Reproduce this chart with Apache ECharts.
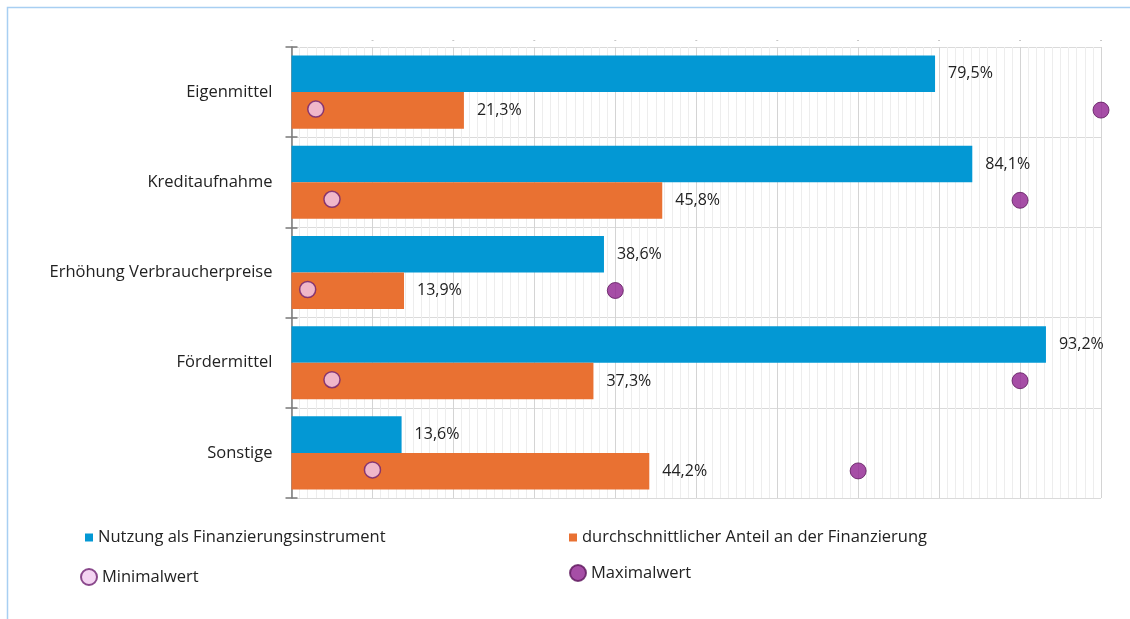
<!DOCTYPE html>
<html>
<head>
<meta charset="utf-8">
<style>
  html, body { margin: 0; padding: 0; background: #fff; }
  #chart { width: 1130px; height: 619px; }
</style>
<script src="https://cdn.jsdelivr.net/npm/echarts@6/dist/echarts.min.js"></script>
</head>
<body>
<div id="chart"></div>
<script>
// Finanzierungsinstrumente: Nutzung und Anteil an der Finanzierung (in %)
const categories = ['Eigenmittel', 'Kreditaufnahme', 'Erhöhung Verbraucherpreise', 'Fördermittel', 'Sonstige'];
const nutzung = [79.5, 84.1, 38.6, 93.2, 13.6];
const anteil = [21.3, 45.8, 13.9, 37.3, 44.2];
const minimalwert = [3, 5, 2, 5, 10];
const maximalwert = [100, 90, 40, 90, 70];
const xTicks = [0, 10, 20, 30, 40, 50, 60, 70, 80, 90, 100];

const names = {
  nutzung: 'Nutzung als Finanzierungsinstrument',
  anteil: 'durchschnittlicher Anteil an der Finanzierung',
  min: 'Minimalwert',
  max: 'Maximalwert'
};

const FONT = '"Open Sans", "Noto Sans", sans-serif';
const TEXT = '#222';
const fmt = v => v.toFixed(1).replace('.', ',') + '%';

const chart = echarts.init(document.getElementById('chart'), null, { renderer: 'canvas' });

const legendBase = {
  orient: 'horizontal',
  padding: 0,
  itemGap: 0,
  selectedMode: false,
  textStyle: { fontFamily: FONT, fontSize: 16.5, color: TEXT }
};

chart.setOption({
  animation: false,
  backgroundColor: '#fff',
  textStyle: { fontFamily: FONT },
  graphic: [{
    type: 'rect',
    shape: { x: 7.5, y: 7.5, width: 1200, height: 700 },
    style: { fill: 'none', stroke: '#a8cff2', lineWidth: 1.5 },
    silent: true
  }],
  grid: { left: 291.5, right: 29, top: 47, bottom: 121, containLabel: false },
  xAxis: {
    type: 'value',
    position: 'top',
    min: xTicks[0],
    max: xTicks[xTicks.length - 1],
    interval: xTicks[1] - xTicks[0],
    axisLine: { show: false },
    axisTick: { show: false },
    axisLabel: {
      show: true, margin: 3, fontSize: 8, color: '#9a9a9a',
      formatter: () => '-'
    },
    splitLine: { show: true, lineStyle: { color: '#d4d4d4', width: 1 } },
    minorTick: { show: false, splitNumber: 10 },
    minorSplitLine: { show: true, lineStyle: { color: '#ededed', width: 1 } }
  },
  yAxis: [{
    type: 'category',
    position: 'left',
    inverse: true,
    data: categories,
    axisLine: { show: true, lineStyle: { color: '#7a7a7a', width: 1.5 } },
    axisTick: { show: true, length: 6, lineStyle: { color: '#7a7a7a', width: 1.5 } },
    axisLabel: { margin: 19, fontSize: 16.5, color: TEXT, fontFamily: FONT },
    splitLine: { show: true, lineStyle: { color: '#dadada', width: 1 } }
  }, {
    type: 'category',
    position: 'left',
    inverse: true,
    data: categories,
    axisLine: { show: false },
    axisTick: { show: true, inside: true, length: 6, lineStyle: { color: '#7a7a7a', width: 1.5 } },
    axisLabel: { show: false },
    splitLine: { show: false }
  }],
  legend: [
    Object.assign({}, legendBase, { data: [{ name: names.nutzung, icon: 'rect' }], left: 85, top: 529, itemWidth: 8, itemHeight: 8 }),
    Object.assign({}, legendBase, { data: [{ name: names.anteil, icon: 'rect' }], left: 569, top: 529, itemWidth: 8, itemHeight: 8 }),
    Object.assign({}, legendBase, { data: [{ name: names.min, icon: 'circle' }], left: 80, top: 568, itemWidth: 16, itemHeight: 16 }),
    Object.assign({}, legendBase, { data: [{ name: names.max, icon: 'circle' }], left: 569, top: 564, itemWidth: 16, itemHeight: 16 })
  ],
  series: [{
    name: names.nutzung,
    type: 'bar',
    yAxisIndex: 0,
    data: nutzung,
    barGap: '0%',
    barCategoryGap: '19%',
    itemStyle: { color: '#0398d4' },
    label: {
      show: true, position: 'right', distance: 13,
      fontSize: 16, color: TEXT, fontFamily: FONT,
      formatter: p => fmt(p.value)
    },
    z: 2
  }, {
    name: names.anteil,
    type: 'bar',
    yAxisIndex: 0,
    data: anteil,
    barGap: '0%',
    barCategoryGap: '19%',
    itemStyle: { color: '#e97132' },
    label: {
      show: true, position: 'right', distance: 13,
      fontSize: 16, color: TEXT, fontFamily: FONT,
      formatter: p => fmt(p.value)
    },
    z: 2
  }, {
    name: names.min,
    type: 'scatter',
    yAxisIndex: 0,
    data: minimalwert.map((v, i) => [v, categories[i]]),
    symbol: 'circle',
    symbolSize: 16,
    symbolOffset: [0, 17],
    itemStyle: { color: '#f1c9ef', borderColor: '#6e2070', borderWidth: 1.5 },
    z: 5
  }, {
    name: names.max,
    type: 'scatter',
    yAxisIndex: 0,
    data: maximalwert.map((v, i) => [v, categories[i]]),
    symbol: 'circle',
    symbolSize: 16,
    symbolOffset: [0, 18],
    itemStyle: { color: '#902290', borderColor: '#5e185c', borderWidth: 1 },
    z: 5
  }]
});
</script>
</body>
</html>
